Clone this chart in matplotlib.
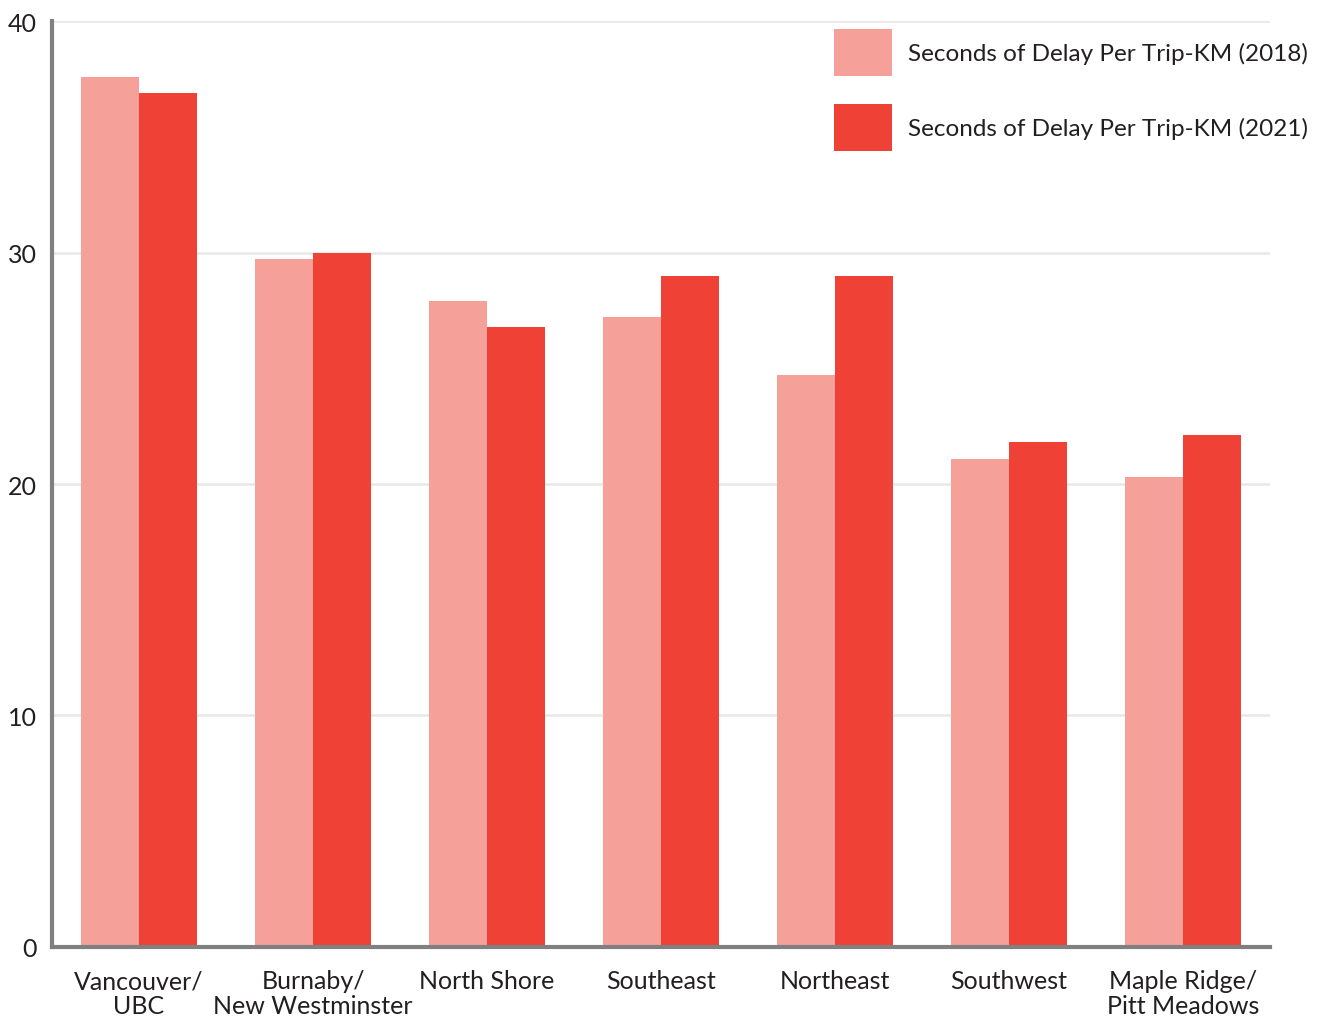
import numpy as np
import matplotlib.pyplot as plt

# Seconds of delay per trip-km by sub-region
regions = ['Vancouver/\nUBC', 'Burnaby/\nNew Westminster', 'North Shore', 'Southeast',
           'Northeast', 'Southwest', 'Maple Ridge/\nPitt Meadows']
delay_2018 = [37.6, 29.7, 27.9, 27.2, 24.7, 21.1, 20.3]
delay_2021 = [36.9, 30.0, 26.8, 29.0, 29.0, 21.8, 22.1]
yticks = [0, 10, 20, 30, 40]

plt.rcParams['font.family'] = ['Lato', 'DejaVu Sans']
text_color = '#231f20'

fig = plt.figure(figsize=(13.23, 10.2), dpi=100)
ax = fig.add_axes([0.0393, 0.0706, 0.9207, 0.9078])

x = np.arange(len(regions))
w = 1 / 3
ax.bar(x - w / 2, delay_2018, width=w, color='#f6a09a', zorder=3,
       label='Seconds of Delay Per Trip-KM (2018)')
ax.bar(x + w / 2, delay_2021, width=w, color='#ef4136', zorder=3,
       label='Seconds of Delay Per Trip-KM (2021)')

ax.set_xlim(-0.5, len(regions) - 0.5)
ax.set_ylim(0, 40)
ax.set_yticks(yticks)
ax.set_xticks(x)
ax.set_xticklabels(regions, linespacing=1.12)
ax.tick_params(axis='both', length=0, labelsize=18, labelcolor=text_color)
ax.tick_params(axis='x', pad=16)
ax.tick_params(axis='y', pad=11)

ax.grid(axis='y', color='#e8e8e8', linewidth=1.8, zorder=0)
for side in ['top', 'right']:
    ax.spines[side].set_visible(False)
for side in ['left', 'bottom']:
    ax.spines[side].set_color('#808080')
    ax.spines[side].set_linewidth(3)
    ax.spines[side].set_zorder(4)

leg = ax.legend(loc='upper left', bbox_to_anchor=(834 / 1323, 1 - 30 / 1020),
                bbox_transform=fig.transFigure, frameon=False, fontsize=17.5,
                handlelength=2.39, handleheight=2.6, handletextpad=0.66,
                labelspacing=1.15, borderpad=0, borderaxespad=0)
for t in leg.get_texts():
    t.set_color(text_color)

fig.savefig('out.png', dpi=100)
